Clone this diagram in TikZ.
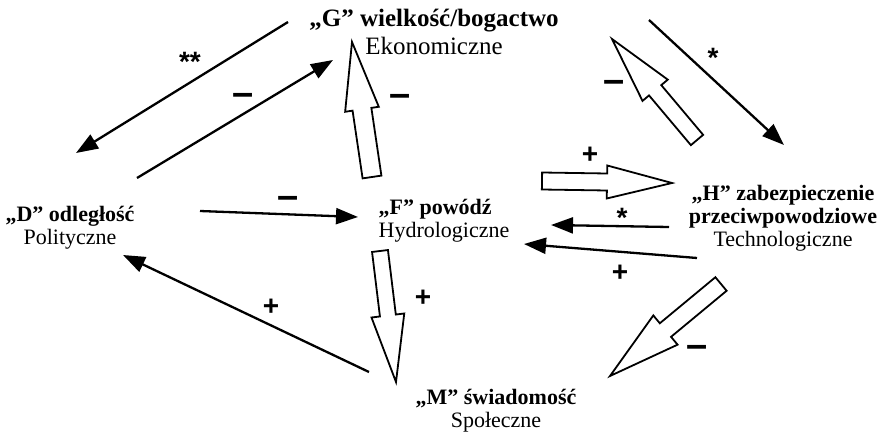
\documentclass[tikz,border=0pt]{standalone}
\usepackage{fontspec}
\setmainfont{Liberation Serif}
\newfontfamily\signfont{Liberation Sans}
\usetikzlibrary{arrows.meta,calc}
\newcommand\blockarrowpath[5]{%
  \draw[blockarrow] let \p1=($(#2)-(#1)$), \n1={veclen(\x1,\y1)-#5} in
    ($(#1)!#3!90:(#2)$) -- ($(#1)!\n1!(#2)!#3!90:(#2)$) -- ($(#1)!\n1!(#2)!#4!90:(#2)$)
    -- (#2) -- ($(#1)!\n1!(#2)!#4!-90:(#2)$) -- ($(#1)!\n1!(#2)!#3!-90:(#2)$)
    -- ($(#1)!#3!-90:(#2)$) -- cycle;}
\begin{document}
\begin{tikzpicture}[x=1pt,y=-1pt,
  lbl/.style={align=center, inner sep=0pt, anchor=base, font=\fontsize{22}{23}\selectfont},
  link/.style={line width=2.3pt, -{Triangle[length=22pt,width=16pt]}},
  blockarrow/.style={draw, line width=1.8pt, fill=white, line join=miter},
  sgn/.style={font=\signfont\bfseries\fontsize{28}{28}\selectfont, inner sep=0pt},
  dsh/.style={font=\signfont\bfseries\fontsize{38}{38}\selectfont, inner sep=0pt}]
\useasboundingbox (0,0) rectangle (880,433);
% concepts (anchor = baseline of last line)
\node[lbl, font=\fontsize{25}{28}\selectfont] (G) at (434,55) {\textbf{„G” wielkość/bogactwo}\\Ekonomiczne};
\node[lbl] (D) at (70,244) {\textbf{„D” odległość}\\Polityczne};
\node[lbl, align=left] (F) at (444,237) {\textbf{„F” powódź}\\Hydrologiczne};
\node[lbl] (H) at (783,246) {\textbf{„H” zabezpieczenie}\\\textbf{przeciwpowodziowe}\\Technologiczne};
\node[lbl] (M) at (496,427) {\textbf{„M” świadomość}\\Społeczne};
% connector ends
\coordinate (gd1) at (288,22);  \coordinate (gd2) at (76,153);
\coordinate (dg1) at (137,178); \coordinate (dg2) at (333,60);
\coordinate (df1) at (200,211); \coordinate (df2) at (358,217);
\coordinate (md1) at (369,372); \coordinate (md2) at (123,255);
\coordinate (gh1) at (649,20);  \coordinate (gh2) at (784,145);
\coordinate (hfa1) at (669,227); \coordinate (hfa2) at (551,225);
\coordinate (hfb1) at (697,258); \coordinate (hfb2) at (524,244);
% block arrow ends
\coordinate (fg1) at (372,177); \coordinate (fg2) at (352,42);
\coordinate (hg1) at (697,140); \coordinate (hg2) at (612,39);
\coordinate (fh1) at (542,181); \coordinate (fh2) at (672,183);
\coordinate (fm1) at (380,251); \coordinate (fm2) at (396,382);
\coordinate (hm1) at (721,284); \coordinate (hm2) at (610,376);
% thin arrows
\draw[link] (gd1) -- (gd2);
\draw[link] (dg1) -- (dg2);
\draw[link] (df1) -- (df2);
\draw[link] (md1) -- (md2);
\draw[link] (gh1) -- (gh2);
\draw[link] (hfa1) -- (hfa2);
\draw[link] (hfb1) -- (hfb2);
% block arrows
\blockarrowpath{fg1}{fg2}{9.5pt}{17pt}{68}
\blockarrowpath{hg1}{hg2}{8pt}{16.5pt}{67}
\blockarrowpath{fh1}{fh2}{8.5pt}{16.5pt}{65}
\blockarrowpath{fm1}{fm2}{8pt}{16.5pt}{67}
\blockarrowpath{hm1}{hm2}{8.8pt}{19pt}{72}
% signs
\node[sgn] (s1) at (190,62) {**};
\node[dsh] (s2) at (243,99) {–};
\node[dsh] (s3) at (400,100) {–};
\node[dsh] (s4) at (288,202) {–};
\node[sgn] (s5) at (271,307) {+};
\node[sgn] (s6) at (423,298) {+};
\node[dsh] (s7) at (614,86) {–};
\node[sgn] (s8) at (713,58) {*};
\node[sgn] (s9) at (590,155) {+};
\node[sgn] (s10) at (622,218) {*};
\node[sgn] (s11) at (620,273) {+};
\node[dsh] (s12) at (697,351) {–};
\end{tikzpicture}
\end{document}
